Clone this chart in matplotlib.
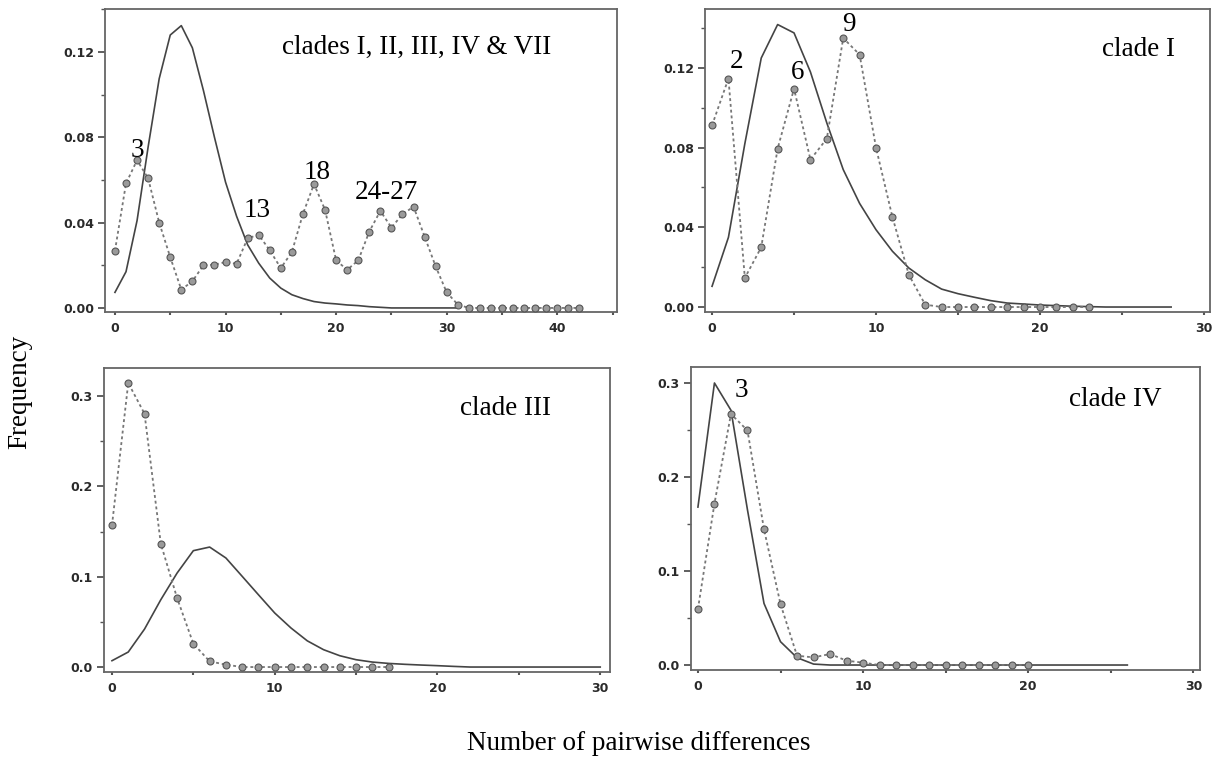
import numpy as np
import matplotlib.pyplot as plt
from matplotlib.ticker import MultipleLocator, FormatStrFormatter

# clades I, II, III, IV & VII
obs_all = [0.0268, 0.0584, 0.0693, 0.0608, 0.040, 0.0238, 0.0086, 0.0125, 0.020, 0.0203,
           0.0215, 0.0207, 0.0327, 0.0343, 0.027, 0.0187, 0.0262, 0.0441, 0.0581, 0.046,
           0.0223, 0.0179, 0.0223, 0.0358, 0.0455, 0.0377, 0.0439, 0.0475, 0.0335, 0.0195,
           0.0073, 0.0016] + [0.0] * 11
exp_all = [0.0073, 0.017, 0.041, 0.0755, 0.1075, 0.128, 0.1324, 0.122, 0.102, 0.080,
           0.059, 0.043, 0.0296, 0.021, 0.014, 0.0093, 0.0062, 0.0044, 0.003, 0.0023,
           0.0019, 0.0014, 0.0011, 0.0006, 0.0003, 0.0, 0.0, 0.0, 0.0, 0.0, 0.0, 0.0]

# clade I
obs_c1 = [0.0912, 0.1147, 0.0146, 0.030, 0.0795, 0.1096, 0.074, 0.0845, 0.135, 0.1267,
          0.080, 0.0452, 0.0162, 0.0012] + [0.0] * 10
exp_c1 = [0.0104, 0.035, 0.082, 0.125, 0.1418, 0.1376, 0.118, 0.0924, 0.069, 0.052,
          0.0388, 0.028, 0.0196, 0.0137, 0.009, 0.0067, 0.0049, 0.0032, 0.002, 0.0015,
          0.001, 0.0007, 0.0004, 0.0002, 0.0, 0.0, 0.0, 0.0, 0.0]

# clade III
obs_c3 = [0.1568, 0.3144, 0.2804, 0.1365, 0.0764, 0.0258, 0.0063, 0.0026] + [0.0] * 10
exp_c3 = [0.007, 0.0166, 0.042, 0.0745, 0.104, 0.1288, 0.1328, 0.1207, 0.1004, 0.080,
          0.0598, 0.0432, 0.029, 0.0192, 0.0125, 0.0081, 0.0055, 0.004, 0.003, 0.0022,
          0.0015, 0.0007] + [0.0] * 9

# clade IV
obs_c4 = [0.0595, 0.1717, 0.267, 0.2495, 0.1444, 0.0648, 0.0099, 0.0081, 0.0117, 0.0046,
          0.0025] + [0.0] * 10
exp_c4 = [0.168, 0.300, 0.271, 0.165, 0.0655, 0.0248, 0.0078, 0.001] + [0.0] * 19

serif = ['Liberation Serif', 'DejaVu Serif']
W, H = 1226, 761


def make_axes(fig, left, right, top, bottom):
    return fig.add_axes([left / W, (H - bottom) / H, (right - left) / W, (bottom - top) / H])


def style(ax, xlim, ylim, ymaj, ymin, fmt):
    ax.set_xlim(*xlim)
    ax.set_ylim(*ylim)
    ax.xaxis.set_major_locator(MultipleLocator(10))
    ax.xaxis.set_minor_locator(MultipleLocator(5))
    ax.yaxis.set_major_locator(MultipleLocator(ymaj))
    ax.yaxis.set_minor_locator(MultipleLocator(ymin))
    ax.yaxis.set_major_formatter(FormatStrFormatter(fmt))
    for s in ax.spines.values():
        s.set_color('#666666')
        s.set_linewidth(1.3)
    ax.tick_params(axis='y', which='major', length=5, width=1.2, color='#444444', pad=3)
    ax.tick_params(axis='y', which='minor', length=3, width=1.0, color='#555555')
    ax.tick_params(axis='x', which='both', length=2.5, width=1.5, color='#555555', pad=5)
    for lab in ax.get_xticklabels() + ax.get_yticklabels():
        lab.set_fontfamily('DejaVu Sans')
        lab.set_fontweight('bold')
        lab.set_fontsize(9)
        lab.set_color('#2a2a2a')


def draw(ax, obs, exp):
    ax.plot(np.arange(len(exp)), exp, color='#444444', lw=1.2, zorder=2)
    ax.plot(np.arange(len(obs)), obs, color='#777777', lw=1.3, ls=(0, (1.6, 1.6)),
            marker='o', ms=5, mfc='#9a9a9a', mec='#555555', mew=0.8, zorder=3)


def label(ax, x, y, s):
    ax.text(x, y, s, family=serif, fontsize=19.5, ha='center', va='center', color='black')


fig = plt.figure(figsize=(W / 100, H / 100), dpi=100)

ax1 = make_axes(fig, 105, 617, 9, 312)
draw(ax1, obs_all, exp_all)
style(ax1, (-0.9, 45.4), (-0.0019, 0.1402), 0.04, 0.02, '%.2f')
label(ax1, 27.3, 0.122, 'clades I, II, III, IV & VII')
label(ax1, 2.0, 0.074, '3')
label(ax1, 12.9, 0.0455, '13')
label(ax1, 18.3, 0.0633, '18')
label(ax1, 24.5, 0.054, '24-27')

ax2 = make_axes(fig, 705, 1210, 9, 312)
draw(ax2, obs_c1, exp_c1)
style(ax2, (-0.43, 30.37), (-0.0025, 0.1496), 0.04, 0.02, '%.2f')
label(ax2, 26.0, 0.1295, 'clade I')
label(ax2, 1.5, 0.123, '2')
label(ax2, 5.2, 0.1175, '6')
label(ax2, 8.35, 0.142, '9')

ax3 = make_axes(fig, 104, 610, 368, 672)
draw(ax3, obs_c3, exp_c3)
style(ax3, (-0.49, 30.6), (-0.0055, 0.331), 0.1, 0.05, '%.1f')
label(ax3, 24.2, 0.2857, 'clade III')

ax4 = make_axes(fig, 691, 1200, 367, 670)
draw(ax4, obs_c4, exp_c4)
style(ax4, (-0.42, 30.4), (-0.0053, 0.317), 0.1, 0.05, '%.1f')
label(ax4, 25.3, 0.2825, 'clade IV')
label(ax4, 2.6, 0.292, '3')

fig.text(20 / W, 1 - 392 / H, 'Frequency', family=serif, fontsize=19.5,
         rotation=90, ha='center', va='center')
fig.text(639 / W, 1 - 743 / H, 'Number of pairwise differences', family=serif,
         fontsize=19.5, ha='center', va='center')

fig.savefig('out.png', dpi=100)
